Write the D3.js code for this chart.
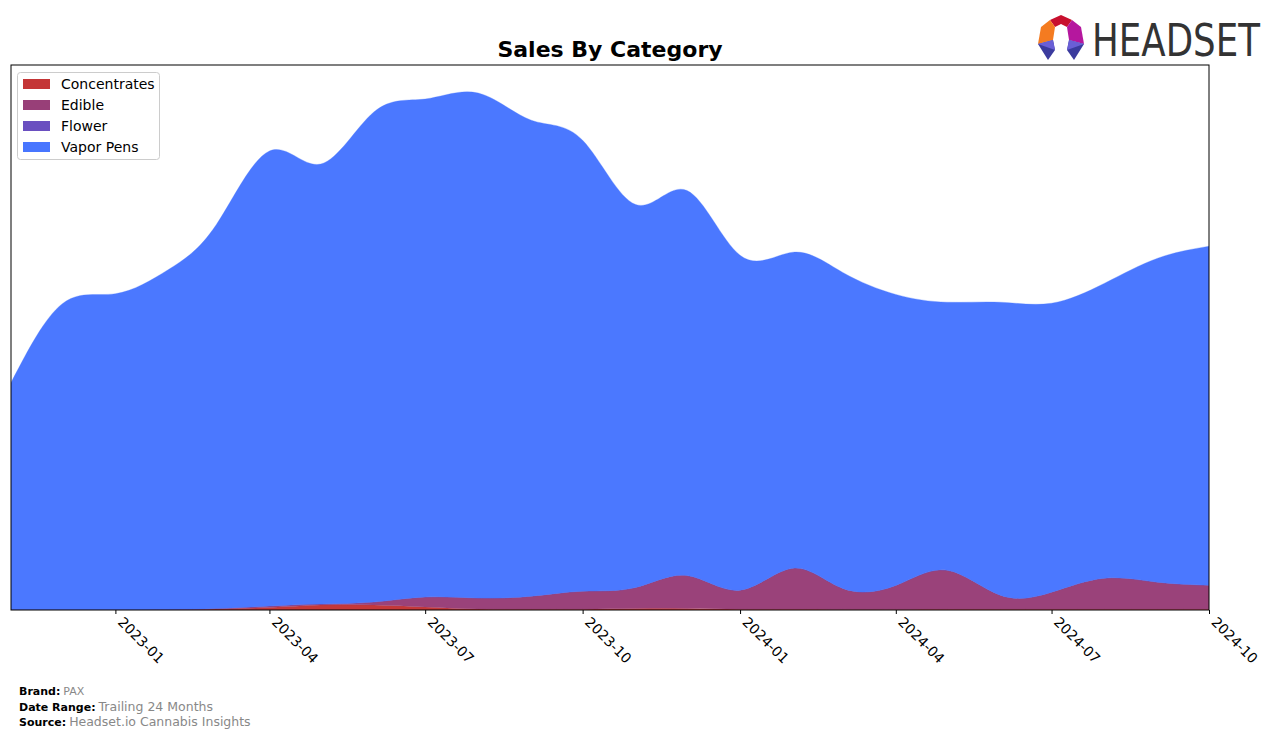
<!DOCTYPE html>
<html><head><meta charset="utf-8">
<script src="https://cdn.jsdelivr.net/npm/d3@7"></script>
<style>body{margin:0;background:#fff;font-family:"DejaVu Sans",sans-serif;}</style>
</head><body><svg id="c" width="1276" height="739"></svg>
<script>
const months = ["2022-11","2022-12","2023-01","2023-02","2023-03","2023-04","2023-05","2023-06","2023-07","2023-08","2023-09","2023-10","2023-11","2023-12","2024-01","2024-02","2024-03","2024-04","2024-05","2024-06","2024-07","2024-08","2024-09","2024-10"];
const categories = ["Concentrates","Edible","Flower","Vapor Pens"];
const colors = ["#c43536","#983f78","#6a4fc0","#4876ff"];
const concentrates = [0.3,0.3,0.3,0.5,1,2.5,5,5,3,1,0.8,0.8,1.5,1.5,0.8,0.8,0.6,0.6,0.8,0.8,0.8,0.8,0.8,0.8];
const edible =       [0,0,0,0,0.5,1.5,1,3,10,11,13,18,21,33,19,41,21,24,39,14,17,31,27,24];
const flower =       [0,0,0,0,0,0,0,0,0,0,0,0,0,0,0,0,0,0,0,0,0,0,0,0];
const vaporPens =    [227,306,316,340,384,455,440,490,498,505,476,451,383,385,335,316,316,291,268,293,289,295,324,339];
const tickLabels = ["2023-01","2023-04","2023-07","2023-10","2024-01","2024-04","2024-07","2024-10"];

const svg = d3.select("#c");
const L=11,R=1209,T=65,B=610;
const parse = d3.timeParse("%Y-%m");
const data = months.map((m,i)=>({date:parse(m),"Concentrates":concentrates[i],"Edible":edible[i],"Flower":flower[i],"Vapor Pens":vaporPens[i]}));
const x = d3.scaleTime().domain([parse(months[0]),parse(months[months.length-1])]).range([L,R]);
const y = d3.scaleLinear().domain([0,545]).range([B,T]);
const stack = d3.stack().keys(categories)(data);
const area = d3.area().curve(d3.curveNatural).x(d=>x(d.data.date)).y0(d=>y(d[0])).y1(d=>y(d[1]));

svg.append("defs").append("clipPath").attr("id","clip").append("rect").attr("x",L).attr("y",T).attr("width",R-L).attr("height",B-T);
const g = svg.append("g").attr("clip-path","url(#clip)");
g.selectAll("path").data(stack).join("path").attr("d",area).attr("fill",(d,i)=>colors[i]).attr("stroke",(d,i)=>colors[i]).attr("stroke-width",0.3).attr("opacity",0.98);

// axis
const xAxis = d3.axisBottom(x).tickValues(tickLabels.map(parse)).tickFormat(d3.timeFormat("%Y-%m")).tickSizeOuter(0).tickSize(4);
const ax = svg.append("g").attr("transform",`translate(0,${B})`).call(xAxis);
ax.select(".domain").remove();
ax.selectAll("text").attr("font-family","DejaVu Sans").attr("font-size",14).attr("fill","#000")
  .attr("text-anchor","start").attr("dy",0).attr("y",0)
  .attr("transform","translate(1,13) rotate(45)");
ax.selectAll("line").attr("stroke","#000");
svg.append("rect").attr("x",L).attr("y",T).attr("width",R-L).attr("height",B-T).attr("fill","none").attr("stroke","#000").attr("stroke-width",1);

// title
svg.append("text").attr("x",610).attr("y",57).attr("text-anchor","middle").attr("font-size",22).attr("font-weight","bold").text("Sales By Category");

// legend
const lg = svg.append("g");
lg.append("rect").attr("x",17.5).attr("y",72.5).attr("width",142).attr("height",87).attr("rx",3).attr("fill","#fff").attr("fill-opacity",0.85).attr("stroke","#ccc");
categories.forEach((c,i)=>{
  lg.append("rect").attr("x",23).attr("y",79+i*21).attr("width",27).attr("height",10).attr("fill",colors[i]);
  lg.append("text").attr("x",61).attr("y",89+i*21).attr("font-size",14).text(c);
});

// footer
const f = [["Brand:","PAX",695,11],["Date Range:","Trailing 24 Months",711,12.5],["Source:","Headset.io Cannabis Insights",726,12.5]];
f.forEach(([a,b,yy,fs])=>{
  const t = svg.append("text").attr("x",19).attr("y",yy);
  t.append("tspan").attr("font-weight","bold").attr("font-size",11).text(a);
  t.append("tspan").attr("fill","#888").attr("font-size",fs).attr("dx",3).text(b);
});

// logo
const lgo = svg.append("g");
lgo.append("polygon").attr("points","1050,20 1061,15 1072,20 1067,27 1061,24 1055,27").attr("fill","#c8102e");
lgo.append("polygon").attr("points","1050,20 1055,27 1053,40 1038,44 1041,27").attr("fill","#f47b20");
lgo.append("polygon").attr("points","1072,20 1067,27 1069,40 1084,44 1081,27").attr("fill","#b5179e");
lgo.append("polygon").attr("points","1038,44 1053,40 1055,50 1048,60").attr("fill","#3b3b9e");
lgo.append("polygon").attr("points","1084,44 1069,40 1067,50 1074,60").attr("fill","#3b3b9e");
lgo.append("polygon").attr("points","1038,44 1053,40 1055,50").attr("fill","#6a5fd6");
lgo.append("polygon").attr("points","1084,44 1069,40 1067,50").attr("fill","#6a5fd6");
lgo.append("text").attr("transform","translate(1092,56) scale(1,1.25)").attr("font-size",36).attr("fill","#333").attr("textLength",168).attr("lengthAdjust","spacingAndGlyphs").attr("font-family","Liberation Sans Narrow, DejaVu Sans Condensed, sans-serif").text("HEADSET");
</script></body></html>
